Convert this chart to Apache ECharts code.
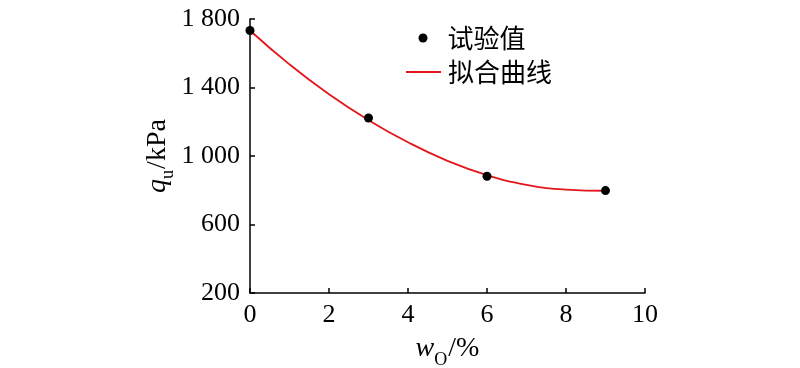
<!DOCTYPE html>
<html>
<head>
<meta charset="utf-8">
<script src="https://cdn.jsdelivr.net/npm/echarts@6/dist/echarts.min.js"></script>
<style>html,body{margin:0;padding:0;background:#fff}#c{width:800px;height:368px}</style>
</head>
<body>
<div id="c"></div>
<script>
// Data
var testX = [0, 3, 6, 9];
var testY = [1733, 1222, 882, 798];
var fitX = [0, 1, 2, 3, 4, 5, 6, 7, 8, 9];
var fitY = [1733, 1535, 1361, 1210, 1080, 972, 888, 832, 804, 797];
var xTicks = [0, 2, 4, 6, 8, 10];
var yTicks = [200, 600, 1000, 1400, 1800];
var seriesNames = ['试验值', '拟合曲线'];

var serif = 'Liberation Serif';
var cjk = 'Noto Sans CJK SC';

function fmtY(v) {
  if (v >= 1000) {
    var r = String(v % 1000);
    while (r.length < 3) r = '0' + r;
    return Math.floor(v / 1000) + ' ' + r;
  }
  return String(v);
}

var chart = echarts.init(document.getElementById('c'), null, {renderer: 'canvas'});
var axisLine = {show: true, lineStyle: {color: '#000', width: 1.5}};
var axisTick = {show: true, inside: true, length: 5, lineStyle: {color: '#000', width: 1.5}};
var nameRich = {
  i: {fontFamily: serif, fontStyle: 'italic', fontSize: 28, color: '#000', lineHeight: 32},
  s: {fontFamily: serif, fontSize: 18, color: '#000', verticalAlign: 'bottom', lineHeight: 18, padding: [0, 1, -4, 0]},
  n: {fontFamily: serif, fontSize: 28, color: '#000', lineHeight: 32}
};

chart.setOption({
  animation: false,
  backgroundColor: '#fff',
  grid: {left: 250, right: 155, top: 19, bottom: 75, containLabel: false, outerBoundsMode: 'none'},
  legend: [
    {
      data: [{name: seriesNames[0], icon: 'circle', itemStyle: {color: '#000', opacity: 1}}],
      left: 418.5, top: 25, padding: 0,
      itemWidth: 9, itemHeight: 9,
      textStyle: {fontFamily: cjk, fontSize: 26, color: '#000', padding: [0, 0, 0, 15]}
    },
    {
      data: [{name: seriesNames[1], icon: 'rect', itemStyle: {color: '#e3161c'}}],
      left: 406, top: 59, padding: 0,
      itemWidth: 35, itemHeight: 1.8,
      textStyle: {fontFamily: cjk, fontSize: 26, color: '#000', padding: [0, 0, 0, 2]}
    }
  ],
  xAxis: {
    type: 'value', min: xTicks[0], max: xTicks[xTicks.length - 1], interval: 2,
    axisLine: axisLine, axisTick: axisTick, splitLine: {show: false},
    axisLabel: {fontFamily: serif, fontSize: 26, color: '#000', margin: 9},
    name: '{i|w}{s|O}{n|/%}',
    nameLocation: 'middle', nameGap: 40,
    nameTextStyle: {rich: nameRich}
  },
  yAxis: {
    type: 'value', min: yTicks[0], max: yTicks[yTicks.length - 1], interval: 400,
    axisLine: axisLine, axisTick: axisTick, splitLine: {show: false},
    axisLabel: {fontFamily: serif, fontSize: 26, color: '#000', margin: 10, formatter: fmtY},
    name: '{i|q}{s|u}{n|/kPa}',
    nameLocation: 'middle', nameGap: 76, nameRotate: 90,
    nameTextStyle: {rich: nameRich}
  },
  series: [
    {
      name: seriesNames[0], type: 'scatter', symbol: 'circle', symbolSize: 9,
      itemStyle: {color: '#000', opacity: 1}, z: 3,
      data: testX.map(function (x, i) { return [x, testY[i]]; })
    },
    {
      name: seriesNames[1], type: 'line', smooth: 0.5, symbol: 'none',
      lineStyle: {color: '#e3161c', width: 1.8}, itemStyle: {color: '#e3161c'}, z: 2,
      data: fitX.map(function (x, i) { return [x, fitY[i]]; })
    }
  ]
});
</script>
</body>
</html>
